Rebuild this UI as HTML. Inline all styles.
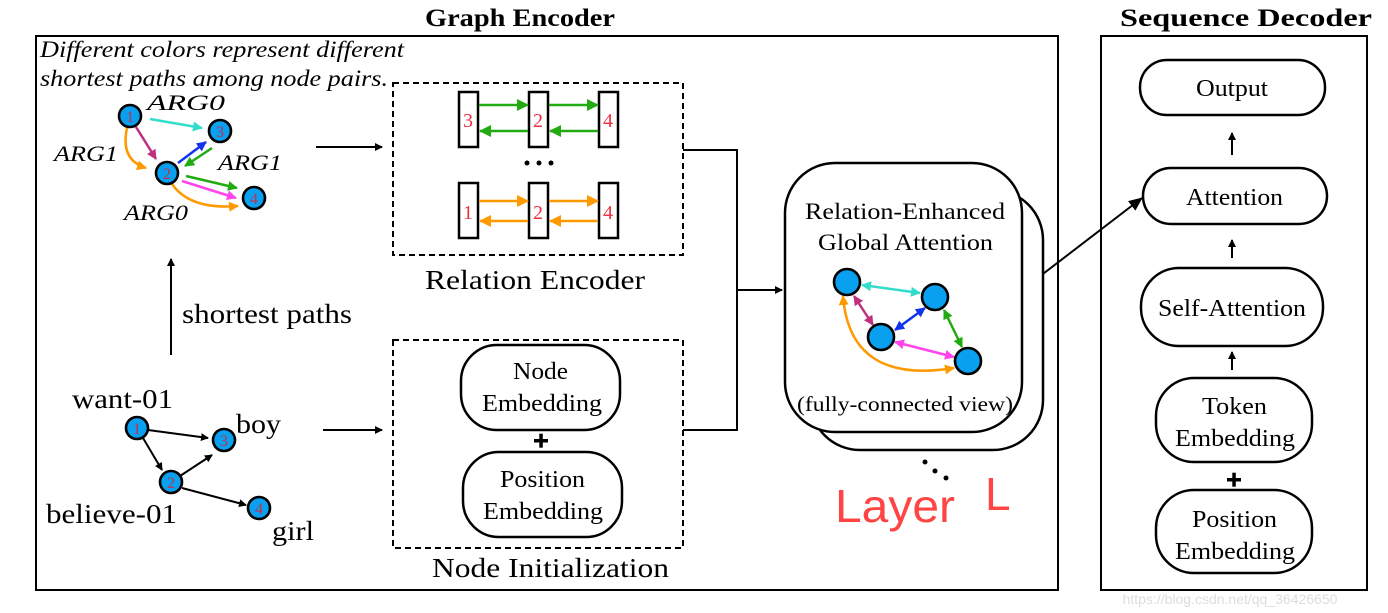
<!DOCTYPE html>
<html><head><meta charset="utf-8"><style>
html,body{margin:0;padding:0;background:#fff;}
svg{display:block;}
text{font-family:"Liberation Serif",serif;}
</style></head><body>
<svg width="1388" height="613" viewBox="0 0 1388 613" xmlns="http://www.w3.org/2000/svg">
<defs>
<marker id="ak" markerWidth="8" markerHeight="8" refX="7" refY="4" orient="auto" markerUnits="userSpaceOnUse"><path d="M0,0 L8,4 L0,8z" fill="#000"/></marker>
<marker id="ab" markerWidth="14" markerHeight="12" refX="13" refY="6" orient="auto" markerUnits="userSpaceOnUse"><path d="M0,0 L14,6 L0,12z" fill="#000"/></marker>
<marker id="ag" markerWidth="12" markerHeight="12" refX="11" refY="6" orient="auto" markerUnits="userSpaceOnUse"><path d="M0,0 L12,6 L0,12z" fill="#22aa11"/></marker>
<marker id="ao" markerWidth="12" markerHeight="12" refX="11" refY="6" orient="auto" markerUnits="userSpaceOnUse"><path d="M0,0 L12,6 L0,12z" fill="#ff9900"/></marker>
<marker id="ac" markerWidth="10" markerHeight="10" refX="9" refY="5" orient="auto-start-reverse" markerUnits="userSpaceOnUse"><path d="M0,0 L10,5 L0,10z" fill="#33ddcc"/></marker>
<marker id="am" markerWidth="10" markerHeight="10" refX="9" refY="5" orient="auto-start-reverse" markerUnits="userSpaceOnUse"><path d="M0,0 L10,5 L0,10z" fill="#c03080"/></marker>
<marker id="abl" markerWidth="10" markerHeight="10" refX="9" refY="5" orient="auto-start-reverse" markerUnits="userSpaceOnUse"><path d="M0,0 L10,5 L0,10z" fill="#1133ee"/></marker>
<marker id="agr" markerWidth="10" markerHeight="10" refX="9" refY="5" orient="auto-start-reverse" markerUnits="userSpaceOnUse"><path d="M0,0 L10,5 L0,10z" fill="#22aa11"/></marker>
<marker id="ap" markerWidth="10" markerHeight="10" refX="9" refY="5" orient="auto-start-reverse" markerUnits="userSpaceOnUse"><path d="M0,0 L10,5 L0,10z" fill="#ff44ee"/></marker>
<marker id="aor" markerWidth="10" markerHeight="10" refX="9" refY="5" orient="auto-start-reverse" markerUnits="userSpaceOnUse"><path d="M0,0 L10,5 L0,10z" fill="#ff9900"/></marker>
</defs>

<text x="425" y="26" font-size="25" font-weight="bold" textLength="190" lengthAdjust="spacingAndGlyphs">Graph Encoder</text>
<text x="1120" y="26" font-size="25" font-weight="bold" textLength="252" lengthAdjust="spacingAndGlyphs">Sequence Decoder</text>

<rect x="36" y="36" width="1022" height="554" fill="none" stroke="#000" stroke-width="2"/>
<rect x="1101" y="36" width="266" height="554" fill="none" stroke="#000" stroke-width="2"/>

<text x="40" y="57" font-size="23" font-style="italic" textLength="364" lengthAdjust="spacingAndGlyphs">Different colors represent different</text>
<text x="40" y="86" font-size="23" font-style="italic" textLength="348" lengthAdjust="spacingAndGlyphs">shortest paths among node pairs.</text>
<text x="147" y="110" font-size="22" font-style="italic" textLength="78" lengthAdjust="spacingAndGlyphs">ARG0</text>
<text x="54" y="161" font-size="22" font-style="italic" textLength="64" lengthAdjust="spacingAndGlyphs">ARG1</text>
<text x="218" y="170" font-size="22" font-style="italic" textLength="64" lengthAdjust="spacingAndGlyphs">ARG1</text>
<text x="124" y="220" font-size="22" font-style="italic" textLength="64" lengthAdjust="spacingAndGlyphs">ARG0</text>
<g stroke-width="2.5" fill="none">
<line x1="150" y1="119" x2="202" y2="128" stroke="#33ddcc" marker-end="url(#ac)"/>
<line x1="136" y1="127" x2="156" y2="159" stroke="#c03080" marker-end="url(#am)"/>
<path d="M127,128 Q120,160 146,168" stroke="#ff9900" marker-end="url(#aor)"/>
<line x1="178" y1="163" x2="206" y2="142" stroke="#1133ee" marker-end="url(#abl)"/>
<line x1="212" y1="148" x2="185" y2="166" stroke="#22aa11" marker-end="url(#agr)"/>
<line x1="186" y1="176" x2="237" y2="188" stroke="#22aa11" marker-end="url(#agr)"/>
<line x1="182" y1="181" x2="236" y2="198" stroke="#ff44ee" marker-end="url(#ap)"/>
<path d="M172,184 Q190,210 238,206" stroke="#ff9900" marker-end="url(#aor)"/>
</g>
<g fill="#0aa0f0" stroke="#000" stroke-width="2.6">
<circle cx="130" cy="116" r="11"/><circle cx="220" cy="131" r="11"/><circle cx="167" cy="173" r="11"/><circle cx="254" cy="198" r="11"/>
</g>
<g fill="#c03050" font-size="16" text-anchor="middle">
<text x="130" y="122">1</text><text x="220" y="137">3</text><text x="167" y="179">2</text><text x="254" y="204">4</text>
</g>

<line x1="316" y1="147" x2="382" y2="147" stroke="#000" stroke-width="2" marker-end="url(#ak)"/>
<line x1="171" y1="355" x2="171" y2="259" stroke="#000" stroke-width="2" marker-end="url(#ak)"/>
<text x="182" y="323" font-size="27" textLength="170" lengthAdjust="spacingAndGlyphs">shortest paths</text>

<text x="72" y="408" font-size="27" textLength="101" lengthAdjust="spacingAndGlyphs">want-01</text>
<text x="236" y="433" font-size="27" textLength="45" lengthAdjust="spacingAndGlyphs">boy</text>
<text x="46" y="523" font-size="27" textLength="131" lengthAdjust="spacingAndGlyphs">believe-01</text>
<text x="272" y="540" font-size="27" textLength="42" lengthAdjust="spacingAndGlyphs">girl</text>
<g stroke="#000" stroke-width="2">
<line x1="148" y1="430" x2="208" y2="438" marker-end="url(#ak)"/>
<line x1="143" y1="438" x2="162" y2="470" marker-end="url(#ak)"/>
<line x1="180" y1="476" x2="212" y2="455" marker-end="url(#ak)"/>
<line x1="182" y1="488" x2="246" y2="505" marker-end="url(#ak)"/>
</g>
<g fill="#0aa0f0" stroke="#000" stroke-width="2.6">
<circle cx="137" cy="428" r="11"/><circle cx="224" cy="440" r="11"/><circle cx="171" cy="482" r="11"/><circle cx="259" cy="508" r="11"/>
</g>
<g fill="#c03050" font-size="16" text-anchor="middle">
<text x="137" y="434">1</text><text x="224" y="446">3</text><text x="171" y="488">2</text><text x="259" y="514">4</text>
</g>
<line x1="323" y1="430" x2="382" y2="430" stroke="#000" stroke-width="2" marker-end="url(#ak)"/>

<rect x="393" y="83" width="290" height="172" fill="none" stroke="#000" stroke-width="2" stroke-dasharray="6,4"/>
<g fill="#fff" stroke="#000" stroke-width="2.5">
<rect x="459" y="92" width="19" height="55"/><rect x="529" y="92" width="19" height="55"/><rect x="599" y="92" width="19" height="55"/>
<rect x="459" y="183" width="19" height="55"/><rect x="529" y="183" width="19" height="55"/><rect x="599" y="183" width="19" height="55"/>
</g>
<g fill="#f03040" font-size="20" text-anchor="middle">
<text x="468" y="127">3</text><text x="538" y="127">2</text><text x="608" y="127">4</text>
<text x="468" y="219">1</text><text x="538" y="219">2</text><text x="608" y="219">4</text>
</g>
<g stroke-width="2.5">
<line x1="479" y1="105" x2="528" y2="105" stroke="#22aa11" marker-end="url(#ag)"/>
<line x1="549" y1="105" x2="598" y2="105" stroke="#22aa11" marker-end="url(#ag)"/>
<line x1="528" y1="131" x2="480" y2="131" stroke="#22aa11" marker-end="url(#ag)"/>
<line x1="598" y1="131" x2="550" y2="131" stroke="#22aa11" marker-end="url(#ag)"/>
<line x1="479" y1="201" x2="528" y2="201" stroke="#ff9900" marker-end="url(#ao)"/>
<line x1="549" y1="201" x2="598" y2="201" stroke="#ff9900" marker-end="url(#ao)"/>
<line x1="528" y1="221" x2="480" y2="221" stroke="#ff9900" marker-end="url(#ao)"/>
<line x1="598" y1="221" x2="550" y2="221" stroke="#ff9900" marker-end="url(#ao)"/>
</g>
<circle cx="527" cy="163" r="2.5"/><circle cx="539" cy="163" r="2.5"/><circle cx="551" cy="163" r="2.5"/>
<text x="425" y="289" font-size="27" textLength="220" lengthAdjust="spacingAndGlyphs">Relation Encoder</text>

<rect x="393" y="340" width="290" height="208" fill="none" stroke="#000" stroke-width="2" stroke-dasharray="6,4"/>
<rect x="461" y="345" width="159" height="85" rx="36" fill="#fff" stroke="#000" stroke-width="2.5"/>
<text x="513" y="379" font-size="24" textLength="55" lengthAdjust="spacingAndGlyphs">Node</text>
<text x="482" y="411" font-size="24" textLength="120" lengthAdjust="spacingAndGlyphs">Embedding</text>
<rect x="534" y="439" width="14" height="3.5"/><rect x="539.3" y="433.7" width="3.5" height="14"/>
<rect x="463" y="452" width="159" height="85" rx="36" fill="#fff" stroke="#000" stroke-width="2.5"/>
<text x="500" y="487" font-size="24" textLength="85" lengthAdjust="spacingAndGlyphs">Position</text>
<text x="483" y="519" font-size="24" textLength="120" lengthAdjust="spacingAndGlyphs">Embedding</text>
<text x="432" y="577" font-size="27" textLength="237" lengthAdjust="spacingAndGlyphs">Node Initialization</text>

<g stroke="#000" stroke-width="2" fill="none">
<polyline points="683,150 737,150 737,430 683,430"/>
<line x1="737" y1="290" x2="782" y2="290" marker-end="url(#ak)"/>
<line x1="1022" y1="290" x2="1142" y2="198" marker-end="url(#ab)"/>
</g>

<rect x="810" y="190" width="233" height="260" rx="50" fill="#fff" stroke="#000" stroke-width="2.5"/>
<rect x="785" y="163" width="237" height="269" rx="50" fill="#fff" stroke="#000" stroke-width="2.5"/>
<text x="805" y="219" font-size="23" textLength="200" lengthAdjust="spacingAndGlyphs">Relation-Enhanced</text>
<text x="818" y="250" font-size="23" textLength="175" lengthAdjust="spacingAndGlyphs">Global Attention</text>
<text x="797" y="411" font-size="21" textLength="216" lengthAdjust="spacingAndGlyphs">(fully-connected view)</text>
<g stroke-width="2.5" fill="none">
<line x1="862" y1="285" x2="920" y2="293" stroke="#33ddcc" marker-start="url(#ac)" marker-end="url(#ac)"/>
<line x1="854" y1="296" x2="873" y2="325" stroke="#c03080" marker-start="url(#am)" marker-end="url(#am)"/>
<line x1="895" y1="330" x2="925" y2="308" stroke="#1133ee" marker-start="url(#abl)" marker-end="url(#abl)"/>
<line x1="944" y1="310" x2="962" y2="347" stroke="#22aa11" marker-start="url(#agr)" marker-end="url(#agr)"/>
<line x1="895" y1="342" x2="954" y2="357" stroke="#ff44ee" marker-start="url(#ap)" marker-end="url(#ap)"/>
<path d="M843,296 Q850,385 954,368" stroke="#ff9900" marker-start="url(#aor)" marker-end="url(#aor)"/>
</g>
<g fill="#0aa0f0" stroke="#000" stroke-width="2.6">
<circle cx="847" cy="282" r="13"/><circle cx="935" cy="297" r="13"/><circle cx="881" cy="337" r="13"/><circle cx="968" cy="361" r="13"/>
</g>
<circle cx="925" cy="462" r="2.5"/><circle cx="935" cy="471" r="2.5"/><circle cx="946" cy="478" r="2.5"/>
<text x="835" y="522" font-size="46" font-weight="300" fill="#ff4444" style="font-family:'Liberation Sans',sans-serif" textLength="120" lengthAdjust="spacingAndGlyphs">Layer</text>
<text x="985" y="510" font-size="46" fill="#ff4444" style="font-family:'Liberation Sans',sans-serif">L</text>

<g fill="#fff" stroke="#000" stroke-width="2.5">
<rect x="1140" y="60" width="185" height="55" rx="27"/>
<rect x="1143" y="168" width="184" height="56" rx="28"/>
<rect x="1141" y="268" width="182" height="78" rx="38"/>
<rect x="1156" y="378" width="156" height="84" rx="38"/>
<rect x="1156" y="490" width="156" height="83" rx="38"/>
</g>
<g font-size="24">
<text x="1196" y="96" textLength="72" lengthAdjust="spacingAndGlyphs">Output</text>
<text x="1186" y="205" textLength="97" lengthAdjust="spacingAndGlyphs">Attention</text>
<text x="1158" y="316" textLength="148" lengthAdjust="spacingAndGlyphs">Self-Attention</text>
<text x="1202" y="414" textLength="65" lengthAdjust="spacingAndGlyphs">Token</text>
<text x="1175" y="446" textLength="120" lengthAdjust="spacingAndGlyphs">Embedding</text>
<text x="1192" y="527" textLength="85" lengthAdjust="spacingAndGlyphs">Position</text>
<text x="1175" y="559" textLength="120" lengthAdjust="spacingAndGlyphs">Embedding</text>
</g>
<g stroke="#000" stroke-width="2">
<line x1="1232" y1="155" x2="1232" y2="133" marker-end="url(#ak)"/>
<line x1="1232" y1="258" x2="1232" y2="240" marker-end="url(#ak)"/>
<line x1="1232" y1="370" x2="1232" y2="352" marker-end="url(#ak)"/>
</g>
<rect x="1227" y="478" width="14" height="3.5"/><rect x="1232.3" y="472.7" width="3.5" height="14"/>
<text x="1230" y="604" font-size="14" fill="#dddddd" text-anchor="middle" style="font-family:'Liberation Sans',sans-serif">https://blog.csdn.net/qq_36426650</text>
</svg>
</body></html>
